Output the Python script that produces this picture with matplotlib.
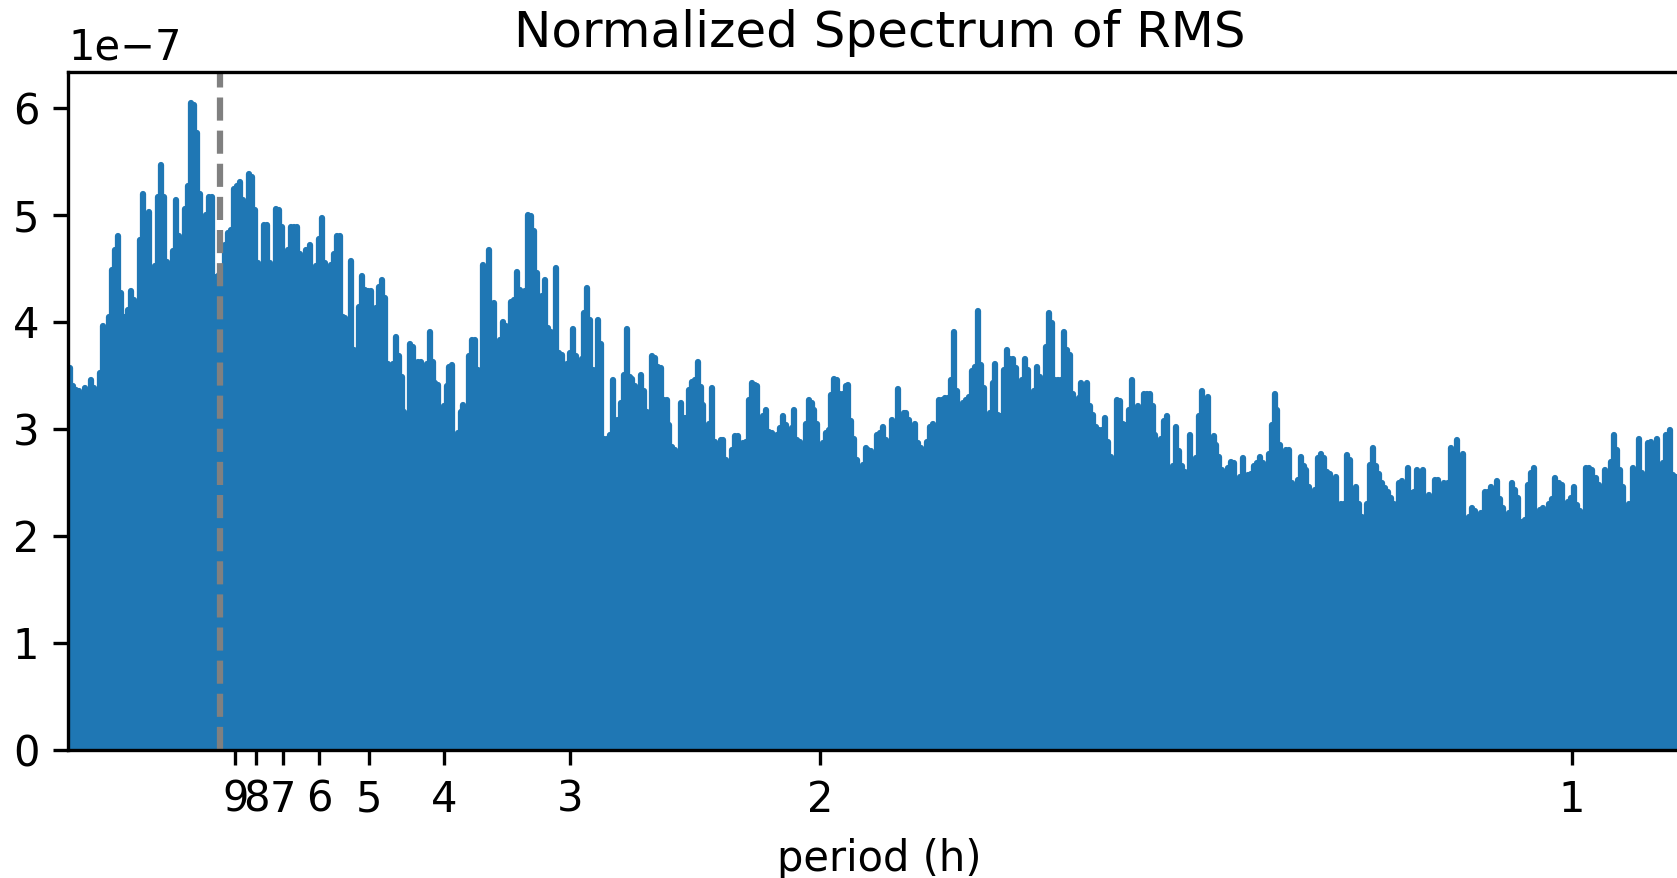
import matplotlib

matplotlib.use("Agg")
import matplotlib.pyplot as plt
import numpy as np

# spectrum, in units of 1e-7, split into six frequency bands (1/h)
band_edges = [0.0, 0.1795, 0.3590, 0.5386, 0.7181, 0.8977, 1.0699]

band1 = [3.57, 3.40, 3.36, 3.35, 3.27, 3.38, 3.32, 3.46, 3.38, 3.32,
         3.52, 3.96, 3.86, 4.05, 4.49, 4.67, 4.80, 4.27, 4.05, 4.11,
         4.29, 4.21, 4.13, 4.77, 5.20, 4.92, 5.03, 4.42, 4.52, 5.17,
         5.47, 5.17, 4.56, 4.44, 4.66, 5.14, 4.80, 4.44, 5.06, 5.27,
         6.05, 6.03, 5.77, 5.20, 4.80, 5.00, 5.17, 5.17, 4.42, 4.44,
         4.42, 4.72, 4.83, 4.86, 5.24, 5.27, 5.31, 5.14, 5.06, 5.38,
         5.36, 5.05, 4.55, 4.49, 4.91, 4.91, 4.55, 4.33, 5.06, 5.05,
         4.89, 4.36, 4.67, 4.89, 4.89, 4.89, 4.64, 4.42, 4.67, 4.72,
         4.44, 4.52, 4.78, 4.97, 4.55, 3.93, 4.53, 4.64, 4.80]
band2 = [4.80, 4.05, 4.04, 4.00, 4.57, 3.74, 3.71, 4.14, 4.43, 4.30,
         4.29, 4.29, 4.05, 4.13, 4.33, 4.39, 4.22, 3.61, 3.54, 3.61,
         3.86, 3.68, 3.49, 3.16, 2.87, 3.79, 3.77, 3.44, 3.63, 3.63,
         3.19, 3.61, 3.91, 3.63, 3.43, 3.41, 3.02, 3.21, 3.40, 3.58,
         3.60, 2.68, 2.96, 3.16, 3.22, 2.93, 3.68, 3.83, 3.83, 3.55,
         3.40, 4.53, 4.13, 4.67, 3.77, 4.18, 3.80, 3.83, 4.00, 3.96,
         3.66, 4.19, 4.21, 4.47, 4.30, 3.37, 4.29, 5.00, 4.99, 4.85,
         4.46, 4.21, 4.24, 4.39, 3.94, 3.91, 3.77, 4.50, 3.71, 3.69,
         3.54, 3.61, 3.71, 3.93, 3.68, 3.35, 3.65, 4.08, 4.32, 4.02,
         3.55, 3.55, 4.02, 3.79, 2.91, 2.91]
band3 = [2.94, 3.46, 3.08, 3.08, 3.24, 3.50, 3.93, 3.49, 3.47, 3.40,
         3.13, 3.50, 3.35, 3.16, 3.10, 3.68, 3.66, 3.58, 3.57, 3.27,
         3.27, 3.04, 2.83, 2.80, 2.77, 3.24, 3.10, 3.10, 3.36, 3.44,
         3.46, 3.63, 3.39, 3.22, 2.83, 3.05, 3.38, 2.88, 2.65, 2.90,
         2.90, 2.71, 2.68, 2.80, 2.93, 2.93, 2.85, 2.87, 2.88, 3.27,
         3.43, 3.41, 3.40, 2.83, 3.12, 3.18, 2.97, 2.96, 2.79, 2.94,
         3.01, 3.12, 3.04, 2.93, 3.01, 3.18, 2.90, 2.88, 2.80, 3.05,
         3.27, 3.24, 3.18, 3.05, 2.82, 2.87, 2.96, 2.99, 3.32, 3.47,
         3.46, 3.33, 3.33, 3.40, 3.41, 3.07, 2.91, 2.71, 2.62, 2.66,
         2.82, 2.80, 2.79, 2.43, 2.94]
band4 = [2.96, 3.02, 2.90, 2.87, 3.08, 2.96, 3.37, 2.77, 3.15, 3.15,
         3.08, 2.99, 3.05, 2.87, 2.82, 2.80, 2.88, 3.02, 3.05, 3.02,
         3.27, 3.27, 3.29, 3.29, 3.46, 3.91, 3.35, 3.05, 3.24, 3.27,
         3.30, 3.54, 3.58, 4.10, 3.60, 3.38, 3.10, 3.15, 3.43, 3.61,
         3.13, 3.12, 3.55, 3.74, 3.65, 3.65, 3.57, 3.29, 3.46, 3.65,
         3.55, 3.07, 3.35, 3.58, 3.49, 3.05, 3.77, 4.08, 3.99, 3.46,
         3.46, 3.46, 3.91, 3.74, 3.69, 3.33, 3.15, 3.29, 3.43, 3.21,
         3.43, 3.21, 3.13, 3.02, 2.99, 2.99, 3.10, 2.88, 2.74, 2.71,
         3.27, 3.26, 3.05, 3.04, 3.18, 3.46, 3.16, 3.21, 3.18, 3.33,
         3.33]
band5 = [3.33, 3.21, 2.94, 2.80, 2.91, 3.07, 3.12, 2.52, 2.65, 3.02,
         2.79, 2.65, 2.60, 2.51, 2.94, 2.54, 2.73, 3.12, 3.35, 3.26,
         3.30, 2.74, 2.93, 2.85, 2.74, 2.62, 2.40, 2.63, 2.69, 2.68,
         2.26, 2.55, 2.73, 2.52, 2.57, 2.58, 2.65, 2.68, 2.74, 2.68,
         2.54, 2.77, 3.04, 3.33, 3.18, 2.85, 2.77, 2.80, 2.80, 2.49,
         2.40, 2.52, 2.74, 2.65, 2.62, 2.46, 2.30, 2.43, 2.73, 2.77,
         2.73, 2.60, 2.58, 2.51, 2.55, 2.16, 2.30, 2.30, 2.76, 2.71,
         2.30, 2.46, 2.30, 2.18, 2.15, 2.30, 2.66, 2.82, 2.65, 2.58,
         2.49, 2.45, 2.41, 2.35, 2.30, 2.18, 2.49, 2.51, 2.37, 2.63,
         2.40, 2.41, 2.62]
band6 = [2.30, 2.62, 2.30, 2.38, 2.16, 2.52, 2.52, 2.38, 2.49, 2.49,
         2.82, 2.71, 2.90, 2.45, 2.77, 2.16, 2.18, 2.26, 2.23, 2.12,
         2.21, 2.41, 2.41, 2.46, 2.24, 2.51, 2.34, 2.26, 2.09, 2.21,
         2.49, 2.43, 2.35, 2.13, 2.15, 2.48, 2.59, 2.63, 2.18, 2.24,
         2.26, 2.20, 2.30, 2.34, 2.54, 2.49, 2.48, 2.30, 2.32, 2.35,
         2.46, 2.29, 2.23, 2.21, 2.63, 2.63, 2.62, 2.54, 2.48, 2.34,
         2.62, 2.48, 2.69, 2.94, 2.80, 2.62, 2.46, 2.15, 2.30, 2.63,
         2.59, 2.91, 2.59, 2.40, 2.87, 2.88, 2.80, 2.91, 2.40, 2.68,
         2.94, 2.99, 2.57, 2.55]

tick_periods = [9, 8, 7, 6, 5, 4, 3, 2, 1]  # h
marker_period = 9.9  # h, dashed line

BAR_COLOR = "#1f77b4"
DPI = 300


def build_spectrum():
    bands = [band1, band2, band3, band4, band5, band6]
    freqs = []
    power = []
    for k, band in enumerate(bands):
        lo, hi = band_edges[k], band_edges[k + 1]
        step = (hi - lo) / len(band)
        freqs.extend(lo + (np.arange(len(band)) + 0.5) * step)
        power.extend(band)
    return np.array(freqs), np.array(power) * 1e-7


def main():
    freqs, power = build_spectrum()

    fig = plt.figure(figsize=(1677 / DPI, 878 / DPI), dpi=DPI)
    # the saved picture cuts the axes off just before its right spine
    ax = fig.add_axes([0.0408, 0.1461, 0.9675, 0.7722])
    ax.vlines(freqs, 0, power, color=BAR_COLOR, linewidth=1.5, capstyle="round")
    ax.axvline(1 / marker_period, color="gray", linestyle="--", linewidth=1.5)

    ax.set_xlim(0, 1.079)
    ax.set_ylim(0, 6.34e-7)
    ax.set_xticks([1 / p for p in tick_periods])
    ax.set_xticklabels([str(p) for p in tick_periods])
    ax.set_xlabel("period (h)")
    ax.set_title("Normalized Spectrum of RMS")

    fig.savefig("out.png", dpi=DPI)
    plt.close(fig)


if __name__ == "__main__":
    main()
